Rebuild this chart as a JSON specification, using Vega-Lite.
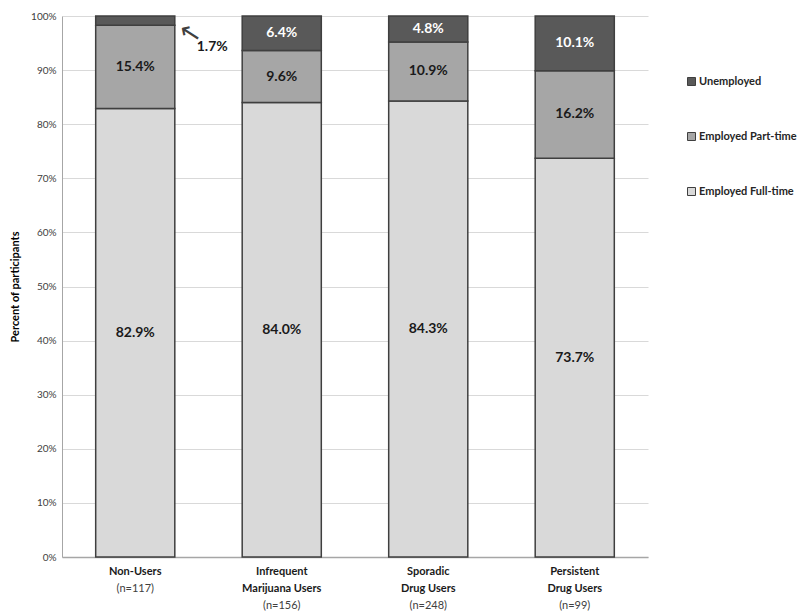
{
  "$schema": "https://vega.github.io/schema/vega-lite/v6.json",
  "width": 586,
  "height": 541,
  "autosize": {"type": "none"},
  "padding": {"left": 62, "top": 16, "right": 152, "bottom": 59},
  "background": "white",
  "config": {"font": "Lato", "view": {"stroke": null}},
  "data": {
    "values": [
      {"group": "Non-Users", "status": "Employed Full-time", "pct": 82.9},
      {"group": "Non-Users", "status": "Employed Part-time", "pct": 15.4},
      {"group": "Non-Users", "status": "Unemployed", "pct": 1.7},
      {"group": "Infrequent Marijuana Users", "status": "Employed Full-time", "pct": 84.0},
      {"group": "Infrequent Marijuana Users", "status": "Employed Part-time", "pct": 9.6},
      {"group": "Infrequent Marijuana Users", "status": "Unemployed", "pct": 6.4},
      {"group": "Sporadic Drug Users", "status": "Employed Full-time", "pct": 84.3},
      {"group": "Sporadic Drug Users", "status": "Employed Part-time", "pct": 10.9},
      {"group": "Sporadic Drug Users", "status": "Unemployed", "pct": 4.8},
      {"group": "Persistent Drug Users", "status": "Employed Full-time", "pct": 73.7},
      {"group": "Persistent Drug Users", "status": "Employed Part-time", "pct": 16.2},
      {"group": "Persistent Drug Users", "status": "Unemployed", "pct": 10.1}
    ]
  },
  "transform": [
    {"stack": "pct", "groupby": ["group"], "sort": [{"field": "status", "order": "ascending"}], "as": ["y0", "y1"]},
    {"calculate": "(datum.y0 + datum.y1) / 2", "as": "ymid"},
    {"calculate": "format(datum.pct, '.1f') + '%'", "as": "label"}
  ],
  "resolve": {"axis": {"x": "independent"}},
  "layer": [
    {
      "mark": {"type": "bar", "stroke": "#3f3f3f", "strokeWidth": 1.5},
      "encoding": {
        "x": {
          "field": "group", "type": "nominal",
          "sort": ["Non-Users", "Infrequent Marijuana Users", "Sporadic Drug Users", "Persistent Drug Users"],
          "scale": {"paddingInner": 0.46, "paddingOuter": 0.23},
          "axis": {
            "orient": "bottom", "title": null, "ticks": false, "grid": false,
            "domainColor": "#a6a6a6", "domainWidth": 1.5,
            "labelAngle": 0, "labelFont": "Lato", "labelFontSize": 11, "labelFontWeight": "bold",
            "labelColor": "#1a1a1a", "labelPadding": 8, "labelLineHeight": 17, "labelBaseline": "top",
            "labelExpr": "datum.value == 'Non-Users' ? 'Non-Users' : datum.value == 'Infrequent Marijuana Users' ? ['Infrequent', 'Marijuana Users'] : datum.value == 'Sporadic Drug Users' ? ['Sporadic', 'Drug Users'] : ['Persistent', 'Drug Users']"
          }
        },
        "y": {
          "field": "y0", "type": "quantitative",
          "scale": {"domain": [0, 100], "nice": false},
          "axis": {
            "title": "Percent of participants", "titleFont": "Lato", "titleFontSize": 11, "titleFontWeight": "bold",
            "titleColor": "#000000", "titlePadding": 10,
            "values": [0, 10, 20, 30, 40, 50, 60, 70, 80, 90, 100],
            "labelExpr": "datum.value + '%'", "labelFont": "Lato", "labelFontSize": 10, "labelColor": "#404040",
            "labelPadding": 6, "ticks": false,
            "grid": true, "gridColor": "#d9d9d9", "gridWidth": 1,
            "domainColor": "#a6a6a6", "domainWidth": 1
          }
        },
        "y2": {"field": "y1"},
        "color": {
          "field": "status", "type": "nominal",
          "scale": {"domain": ["Unemployed", "Employed Part-time", "Employed Full-time"], "range": ["#595959", "#a6a6a6", "#d9d9d9"]},
          "legend": {
            "title": null, "orient": "none", "legendX": 624, "legendY": 60, "padding": 0,
            "symbolType": "square", "symbolSize": 64, "symbolStrokeColor": "#3f3f3f", "symbolStrokeWidth": 1,
            "labelFont": "Lato", "labelFontSize": 11, "labelFontWeight": "bold", "labelColor": "#262626",
            "labelOffset": 2, "rowPadding": 42, "labelLimit": 200
          }
        }
      }
    },
    {
      "transform": [{"filter": "datum.pct >= 3"}],
      "mark": {"type": "text", "font": "Lato", "fontSize": 14, "fontWeight": "bold"},
      "encoding": {
        "x": {
          "field": "group", "type": "nominal",
          "sort": ["Non-Users", "Infrequent Marijuana Users", "Sporadic Drug Users", "Persistent Drug Users"],
          "axis": {
            "orient": "bottom", "title": null, "ticks": false, "grid": false, "domain": false,
            "labelAngle": 0, "labelFont": "Lato", "labelFontSize": 11, "labelFontWeight": "normal",
            "labelColor": "#404040", "labelPadding": 25, "labelBaseline": "top",
            "labelExpr": "datum.value == 'Non-Users' ? '(n=117)' : ''"
          }
        },
        "y": {"field": "ymid", "type": "quantitative"},
        "text": {"field": "label"},
        "color": {"condition": {"test": "datum.status == 'Unemployed'", "value": "#ffffff"}, "value": "#1a1a1a"}
      }
    },
    {
      "transform": [{"filter": "datum.pct < 3"}],
      "mark": {"type": "text", "font": "Lato", "fontSize": 14, "fontWeight": "bold", "dx": 77, "dy": 26, "color": "#1a1a1a"},
      "encoding": {
        "x": {
          "field": "group", "type": "nominal",
          "sort": ["Non-Users", "Infrequent Marijuana Users", "Sporadic Drug Users", "Persistent Drug Users"],
          "axis": {
            "orient": "bottom", "title": null, "ticks": false, "grid": false, "domain": false,
            "labelAngle": 0, "labelFont": "Lato", "labelFontSize": 11, "labelFontWeight": "normal",
            "labelColor": "#404040", "labelPadding": 42, "labelBaseline": "top",
            "labelExpr": "datum.value == 'Infrequent Marijuana Users' ? '(n=156)' : datum.value == 'Sporadic Drug Users' ? '(n=248)' : datum.value == 'Persistent Drug Users' ? '(n=99)' : ''"
          }
        },
        "y": {"field": "ymid", "type": "quantitative"},
        "text": {"field": "label"}
      }
    },
    {
      "transform": [{"filter": "datum.pct < 3"}],
      "mark": {"type": "text", "font": "DejaVu Sans", "fontSize": 26, "dx": 51, "dy": 24, "angle": 348, "color": "#404040", "text": "↖"},
      "encoding": {
        "x": {"field": "group", "type": "nominal", "sort": ["Non-Users", "Infrequent Marijuana Users", "Sporadic Drug Users", "Persistent Drug Users"], "axis": null},
        "y": {"field": "ymid", "type": "quantitative"}
      }
    }
  ]
}
